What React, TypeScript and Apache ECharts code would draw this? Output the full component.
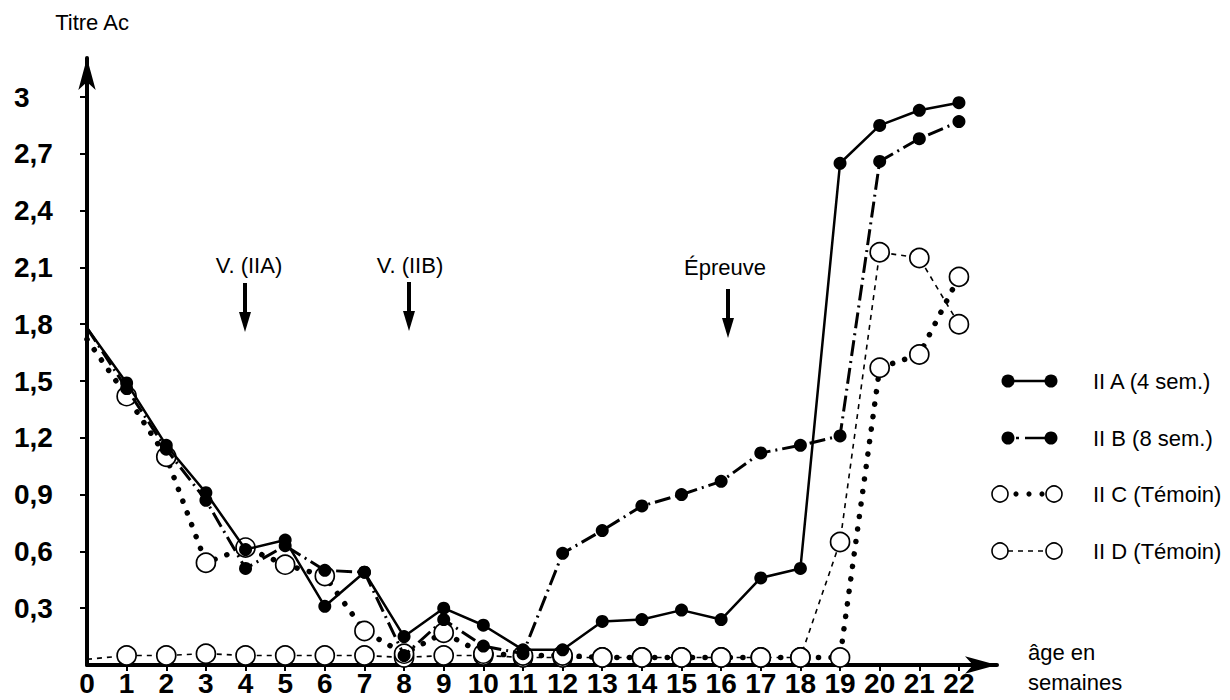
import React, { useEffect, useRef } from "react";
import * as echarts from "echarts";

const weeks = [0, 1, 2, 3, 4, 5, 6, 7, 8, 9, 10, 11, 12, 13, 14, 15, 16, 17, 18, 19, 20, 21, 22];
const yTicks = [0.3, 0.6, 0.9, 1.2, 1.5, 1.8, 2.1, 2.4, 2.7, 3];

const valuesIIA = [1.78, 1.49, 1.16, 0.91, 0.61, 0.66, 0.31, 0.49, 0.15, 0.3, 0.21, 0.08, 0.08, 0.23, 0.24, 0.29, 0.24, 0.46, 0.51, 2.65, 2.85, 2.93, 2.97];
const valuesIIB = [1.78, 1.46, 1.14, 0.87, 0.51, 0.63, 0.5, 0.49, 0.05, 0.24, 0.1, 0.06, 0.59, 0.71, 0.84, 0.9, 0.97, 1.12, 1.16, 1.21, 2.66, 2.78, 2.87];
const valuesIIC = [1.72, 1.42, 1.1, 0.54, 0.62, 0.53, 0.47, 0.18, 0.06, 0.17, 0.06, 0.05, 0.05, 0.04, 0.04, 0.04, 0.04, 0.04, 0.04, 0.04, 1.57, 1.64, 2.05];
const valuesIID = [0.03, 0.05, 0.05, 0.06, 0.05, 0.05, 0.05, 0.05, 0.04, 0.05, 0.05, 0.04, 0.04, 0.04, 0.04, 0.04, 0.04, 0.04, 0.04, 0.65, 2.18, 2.15, 1.8];

const seriesNames = ["II A (4 sem.)", "II B (8 sem.)", "II C (Témoin)", "II D (Témoin)"];

const FONT = "'Liberation Sans', Arial, Helvetica, sans-serif";

function makeSeries(name: string, vals: number[], filled: boolean, lineStyle: any, z: number) {
  return {
    type: "line",
    name,
    z,
    silent: true,
    showAllSymbol: true,
    symbol: "circle",
    symbolSize: filled ? 13 : 19,
    data: weeks.map((w, i) => (i === 0 ? { value: [w, vals[i]], symbol: "none" } : [w, vals[i]])),
    itemStyle: filled
      ? { color: "#000", borderWidth: 0 }
      : { color: "#fff", borderColor: "#000", borderWidth: 1.7 },
    lineStyle: { color: "#000", ...lineStyle },
    emphasis: { disabled: true },
  };
}

export default function App() {
  const ref = useRef<HTMLDivElement>(null);

  useEffect(() => {
    if (!ref.current) return;
    const chart = echarts.init(ref.current, undefined, { renderer: "svg" });

    const txt = (text: string, x: number, y: number, size: number, align = "center") => ({
      type: "text",
      x,
      y,
      silent: true,
      style: { text, fontSize: size, fontFamily: FONT, fill: "#000", align, verticalAlign: "middle" },
    });
    const arrow = (x: number, y1: number, y2: number) => [
      { type: "line", silent: true, shape: { x1: x, y1, x2: x, y2: y2 - 16 }, style: { stroke: "#000", lineWidth: 4 } },
      {
        type: "polygon",
        silent: true,
        shape: { points: [[x - 6, y2 - 20], [x + 6, y2 - 20], [x, y2]] },
        style: { fill: "#000" },
      },
    ];

    const legendRows = [381, 438, 494, 551];
    const legendGraphics: any[] = [];
    // II A
    legendGraphics.push(
      { type: "line", silent: true, shape: { x1: 1008, y1: legendRows[0], x2: 1051, y2: legendRows[0] }, style: { stroke: "#000", lineWidth: 2.5 } },
      { type: "circle", silent: true, shape: { cx: 1008, cy: legendRows[0], r: 6.5 }, style: { fill: "#000" } },
      { type: "circle", silent: true, shape: { cx: 1051, cy: legendRows[0], r: 6.5 }, style: { fill: "#000" } }
    );
    // II B
    legendGraphics.push(
      { type: "line", silent: true, shape: { x1: 1016, y1: legendRows[1], x2: 1019, y2: legendRows[1] }, style: { stroke: "#000", lineWidth: 2.5 } },
      { type: "line", silent: true, shape: { x1: 1025, y1: legendRows[1], x2: 1051, y2: legendRows[1] }, style: { stroke: "#000", lineWidth: 2.5 } },
      { type: "circle", silent: true, shape: { cx: 1008, cy: legendRows[1], r: 6.5 }, style: { fill: "#000" } },
      { type: "circle", silent: true, shape: { cx: 1051, cy: legendRows[1], r: 6.5 }, style: { fill: "#000" } }
    );
    // II C
    [1016, 1029, 1042].forEach((cx) =>
      legendGraphics.push({ type: "circle", silent: true, shape: { cx, cy: legendRows[2], r: 2.6 }, style: { fill: "#000" } })
    );
    legendGraphics.push(
      { type: "circle", silent: true, shape: { cx: 1000, cy: legendRows[2], r: 8 }, style: { fill: "#fff", stroke: "#000", lineWidth: 1.6 } },
      { type: "circle", silent: true, shape: { cx: 1054, cy: legendRows[2], r: 8 }, style: { fill: "#fff", stroke: "#000", lineWidth: 1.6 } }
    );
    // II D
    legendGraphics.push(
      { type: "line", silent: true, shape: { x1: 1008, y1: legendRows[3], x2: 1046, y2: legendRows[3] }, style: { stroke: "#000", lineWidth: 1.6, lineDash: [5, 5] } },
      { type: "circle", silent: true, shape: { cx: 1000, cy: legendRows[3], r: 8 }, style: { fill: "#fff", stroke: "#000", lineWidth: 1.6 } },
      { type: "circle", silent: true, shape: { cx: 1054, cy: legendRows[3], r: 8 }, style: { fill: "#fff", stroke: "#000", lineWidth: 1.6 } }
    );
    seriesNames.forEach((n, i) => legendGraphics.push(txt(n, 1093, legendRows[i], 22, "left")));

    chart.setOption({
      animation: false,
      backgroundColor: "#fff",
      grid: { left: 87, right: 233, top: 58, bottom: 35, containLabel: false, outerBoundsMode: "none" },
      xAxis: {
        type: "value",
        min: 0,
        max: 22.96,
        axisLine: {
          show: true,
          onZero: false,
          symbol: ["none", "arrow"],
          symbolSize: [13, 32],
          lineStyle: { color: "#000", width: 4 },
        },
        axisTick: { show: true, customValues: weeks.slice(1), length: 6, lineStyle: { color: "#000", width: 2 } },
        axisLabel: {
          customValues: weeks,
          formatter: (v: number) => String(v),
          fontSize: 28,
          fontWeight: "bold",
          fontFamily: FONT,
          color: "#000",
          margin: 4,
        },
        splitLine: { show: false },
      },
      yAxis: {
        type: "value",
        min: 0,
        max: 3.206,
        axisLine: {
          show: true,
          onZero: false,
          symbol: ["none", "arrow"],
          symbolSize: [13, 32],
          lineStyle: { color: "#000", width: 4 },
        },
        axisTick: { show: true, customValues: yTicks, length: 7, lineStyle: { color: "#000", width: 2 } },
        axisLabel: {
          customValues: yTicks,
          formatter: (v: number) => String(Math.round(v * 10) / 10).replace(".", ","),
          align: "left",
          margin: 73,
          fontSize: 28,
          fontWeight: "bold",
          fontFamily: FONT,
          color: "#000",
        },
        splitLine: { show: false },
      },
      series: [
        makeSeries(seriesNames[3], valuesIID, false, { width: 1.6, type: [5, 5] }, 2),
        makeSeries(seriesNames[2], valuesIIC, false, { width: 5.5, type: [0.1, 12.5], cap: "round" }, 3),
        makeSeries(seriesNames[1], valuesIIB, true, { width: 3, type: [16, 5, 2, 5] }, 4),
        makeSeries(seriesNames[0], valuesIIA, true, { width: 2.5, type: "solid" }, 5),
      ],
      graphic: [
        txt("Titre Ac", 92, 22, 22),
        txt("V. (IIA)", 249, 265, 22),
        txt("V. (IIB)", 410, 265, 22),
        txt("Épreuve", 725, 267, 22),
        ...arrow(245, 283, 332),
        ...arrow(409, 282, 331),
        ...arrow(728, 289, 338),
        txt("âge en", 1028, 652, 22, "left"),
        txt("semaines", 1028, 682, 22, "left"),
        ...legendGraphics,
      ],
    });

    return () => chart.dispose();
  }, []);

  return (
    <div
      ref={ref}
      style={{ position: "fixed", left: 0, top: 0, width: 1230, height: 700, background: "#fff" }}
    />
  );
}
